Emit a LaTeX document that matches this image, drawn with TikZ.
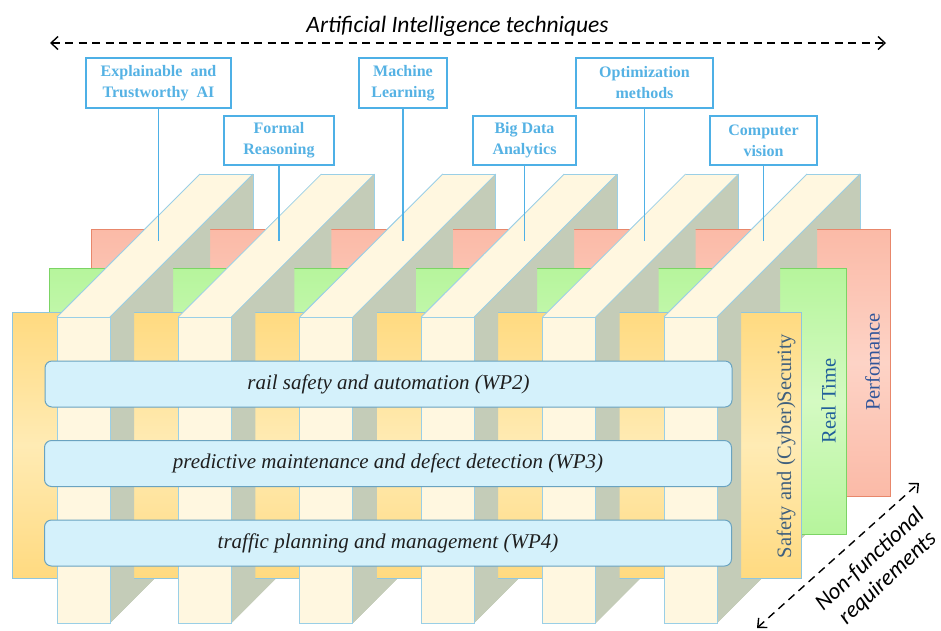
\documentclass[tikz,border=0pt]{standalone}
\usepackage{fontspec}
\setmainfont{Liberation Serif}
\newfontfamily\calfont{Carlito}
\usetikzlibrary{arrows.meta}
\definecolor{cream}{HTML}{FFF7E0}
\definecolor{sidegrey}{HTML}{C4CCB8}
\definecolor{pedge}{HTML}{9ACFE6}
\definecolor{ylw}{HTML}{FFDA80}
\definecolor{ylwmid}{HTML}{FFEBB4}
\definecolor{ylwedge}{HTML}{8FC6DE}
\definecolor{grn}{HTML}{B6F59C}
\definecolor{grnmid}{HTML}{D4FAC2}
\definecolor{grnedge}{HTML}{7CD465}
\definecolor{rd}{HTML}{FBBAA7}
\definecolor{rdmid}{HTML}{FDD3C6}
\definecolor{rdedge}{HTML}{E8876B}
\definecolor{barfill}{HTML}{D4F1FB}
\definecolor{baredge}{HTML}{6AA3C0}
\definecolor{lblue}{HTML}{4EB0E6}
\definecolor{ltext}{HTML}{55B2E4}
\definecolor{safetytxt}{HTML}{40607E}
\definecolor{rttxt}{HTML}{1F5E9A}
\definecolor{perftxt}{HTML}{30559A}

% draw the pillars' top and side faces from depth 0 to depth #1
\newcommand{\pillarpass}[1]{%
  \foreach \a in {57,178.4,299.8,421.2,542.6,664}{
    \fill[cream] (\a,317) -- (\a+53,317) -- (\a+53+#1,317-#1) -- (\a+#1,317-#1) -- cycle;
    \fill[sidegrey] (\a+53,317) -- (\a+53+#1,317-#1) -- (\a+53+#1,623-#1) -- (\a+53,623) -- cycle;
    \draw[edgeline] (\a,317) -- (\a+#1,317-#1);
    \draw[edgeline] (\a+53,317) -- (\a+53+#1,317-#1);
  }}

\begin{document}
\begin{tikzpicture}[x=1pt,y=-1pt,
  edgeline/.style={draw=pedge,line width=0.8pt},
  frontface/.style={fill=cream,draw=pedge,line width=0.9pt},
  wpbar/.style={draw=baredge,fill=barfill,line width=1pt,rounded corners=7pt,
     minimum width=687pt,minimum height=46pt,inner sep=0pt,
     font=\fontsize{21}{24}\selectfont\itshape,text=black!88},
  lbl/.style={draw=lblue,fill=white,line width=1.8pt,align=center,inner sep=0pt,
     font=\fontsize{16}{21}\selectfont\bfseries,text=ltext},
  conn/.style={draw=lblue,line width=1.8pt},
  vtext/.style={rotate=90,inner sep=0pt,font=\fontsize{20.5}{24}\selectfont},
  dasharrow/.style={dash pattern=on 8pt off 5.5pt,line width=1.4pt,
     arrows={Straight Barb[length=7pt,width=13pt,line width=1.4pt]-Straight Barb[length=7pt,width=13pt,line width=1.4pt]}},
]
\useasboundingbox (0,0) rectangle (941,630);
\clip (0,0) rectangle (941,630);

% ---- pillars, full depth (back parts)
\pillarpass{143}
\foreach \a in {57,178.4,299.8,421.2,542.6,664}{
  \draw[edgeline] (\a+143,174) -- (\a+196,174) -- (\a+196,480);
}

% ---- red plane (Performance), depth 100
\path[draw=rdedge,line width=0.9pt,top color=rd,bottom color=rd,middle color=rdmid]
  (91,229) rectangle (890,496);
\pillarpass{100}

% ---- green plane (Real Time), depth 63
\path[draw=grnedge,line width=0.9pt,top color=grn,bottom color=grn,middle color=grnmid]
  (49,268) rectangle (846,534);
\pillarpass{63}

% ---- yellow plane (Safety), depth 24
\path[draw=ylwedge,line width=0.9pt,top color=ylw,bottom color=ylw,middle color=ylwmid]
  (12,312) rectangle (801,578);
\pillarpass{24}

% ---- front faces
\foreach \a in {57,178.4,299.8,421.2,542.6,664}{
  \draw[frontface] (\a,317) rectangle (\a+53,623);
}

% ---- work package bars
\node[wpbar] (wp2) at (388.5,384) {rail safety and automation (WP2)};
\node[wpbar] (wp3) at (388,463.5) {predictive maintenance and defect detection (WP3)};
\node[wpbar] (wp4) at (388,543) {traffic planning and management (WP4)};

% ---- non-functional requirement labels
\node[vtext,text=safetytxt] (safety) at (786,446) {Safety and (Cyber)Security};
\node[vtext,text=rttxt] (realtime) at (828.5,401) {Real Time};
\node[vtext,text=perftxt] (perf) at (872.5,362) {Perfomance};

% ---- AI technique labels
\node[lbl,minimum width=145pt,minimum height=50pt] (xai) at (158.5,83) {Explainable\ \ and\\Trustworthy\ \ AI};
\node[lbl,minimum width=110pt,minimum height=49pt] (formal) at (279,140.5) {Formal\\Reasoning};
\node[lbl,minimum width=88pt,minimum height=50pt] (ml) at (403,83) {Machine\\Learning};
\node[lbl,minimum width=103pt,minimum height=49pt] (bigdata) at (524.5,140.5) {Big Data\\Analytics};
\node[lbl,minimum width=137pt,minimum height=50pt] (opt) at (644.5,83) {Optimization\\methods};
\node[lbl,minimum width=107pt,minimum height=49pt] (cv) at (763.5,140.5) {Computer\\vision};

\coordinate (p1) at (158.5,241);
\coordinate (p2) at (279,241);
\coordinate (p3) at (403,241);
\coordinate (p4) at (524.5,241);
\coordinate (p5) at (644.5,241);
\coordinate (p6) at (763.5,241);
\draw[conn] (xai.south) -- (p1);
\draw[conn] (formal.south) -- (p2);
\draw[conn] (ml.south) -- (p3);
\draw[conn] (bigdata.south) -- (p4);
\draw[conn] (opt.south) -- (p5);
\draw[conn] (cv.south) -- (p6);

% ---- title and axis arrows
\node[anchor=base,inner sep=0pt,font=\fontsize{23.5}{28}\selectfont\calfont\itshape] (title) at (457.5,32) {Artificial Intelligence techniques};
\coordinate (aiL) at (50,43);
\coordinate (aiR) at (886,43);
\draw[dasharrow] (aiL) -- (aiR);

\coordinate (nfA) at (757,628);
\coordinate (nfB) at (919,483);
\draw[dasharrow] (nfA) -- (nfB);
\node[rotate=43,align=center,inner sep=0pt,font=\fontsize{23}{26}\selectfont\calfont\itshape] (nfr) at (879,569) {Non-functional\\requirements};
\end{tikzpicture}
\end{document}
